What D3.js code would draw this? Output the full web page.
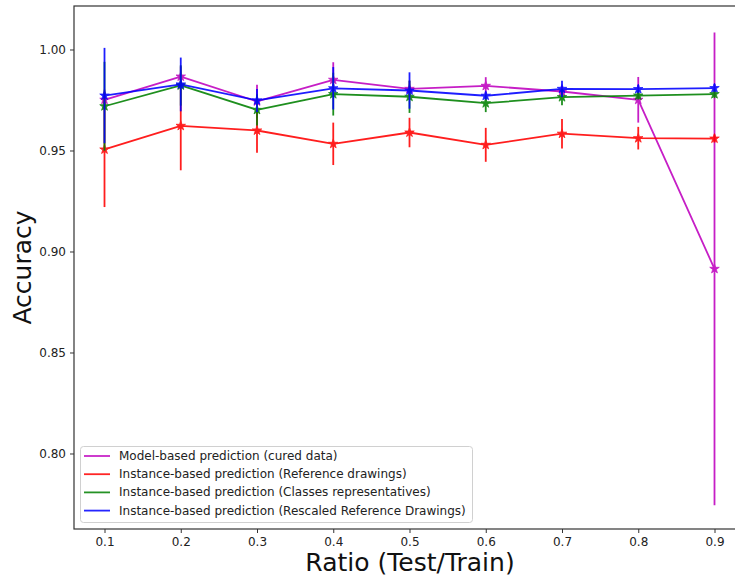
<!DOCTYPE html>
<html>
<head>
<meta charset="utf-8">
<script src="https://cdn.jsdelivr.net/npm/d3@7"></script>
<style>
  body { margin: 0; background: #fff; }
  svg { display: block; font-family: "DejaVu Sans", sans-serif; }
</style>
</head>
<body>
<svg id="chart" width="735" height="578"></svg>
<script>
// ---- data ----
const ratios = [0.1, 0.2, 0.3, 0.4, 0.5, 0.6, 0.7, 0.8, 0.9];
const xTicks = [0.1, 0.2, 0.3, 0.4, 0.5, 0.6, 0.7, 0.8, 0.9];
const yTicks = [0.80, 0.85, 0.90, 0.95, 1.00];

const modelMean  = [0.9751, 0.9866, 0.9743, 0.9850, 0.9805, 0.9820, 0.9792, 0.9751, 0.8914];
const modelErr   = [0.0050, 0.0050, 0.0082, 0.0087, 0.0040, 0.0043, 0.0030, 0.0113, 0.1170];
const refMean    = [0.9505, 0.9622, 0.9599, 0.9533, 0.9589, 0.9528, 0.9583, 0.9561, 0.9559];
const refErr     = [0.0285, 0.0220, 0.0110, 0.0105, 0.0073, 0.0084, 0.0073, 0.0056, 0.0020];
const classMean  = [0.9719, 0.9822, 0.9701, 0.9779, 0.9766, 0.9734, 0.9764, 0.9772, 0.9779];
const classErr   = [0.0220, 0.0100, 0.0077, 0.0106, 0.0080, 0.0044, 0.0040, 0.0020, 0.0020];
const rescMean   = [0.9772, 0.9827, 0.9748, 0.9808, 0.9797, 0.9771, 0.9805, 0.9804, 0.9809];
const rescErr    = [0.0236, 0.0133, 0.0057, 0.0105, 0.0090, 0.0020, 0.0040, 0.0020, 0.0020];

const seriesNames = [
  "Model-based prediction (cured data)",
  "Instance-based prediction (Reference drawings)",
  "Instance-based prediction (Classes representatives)",
  "Instance-based prediction (Rescaled Reference Drawings)"
];
const seriesColors = ["#bf00bf", "#ff0000", "#008000", "#0000ff"];

const series = [
  { name: seriesNames[0], color: seriesColors[0], mean: modelMean, err: modelErr },
  { name: seriesNames[1], color: seriesColors[1], mean: refMean,   err: refErr },
  { name: seriesNames[2], color: seriesColors[2], mean: classMean, err: classErr },
  { name: seriesNames[3], color: seriesColors[3], mean: rescMean,  err: rescErr }
];

// ---- layout ----
const plot = { left: 74, top: 6, right: 745, bottom: 529 };
const svg = d3.select("#chart");
svg.append("rect").attr("width", 735).attr("height", 578).attr("fill", "#fff");

const x = d3.scaleLinear().domain([0.06, 0.94]).range([plot.left, plot.right]);
const y = d3.scaleLinear().domain([0.76262, 1.02153]).range([plot.bottom, plot.top]);

// ---- series ----
const g = svg.append("g");
const line = d3.line().x(d => x(d[0])).y(d => y(d[1]));
const star = d3.symbol().type(d3.symbolStar).size(28);

series.forEach(s => {
  const pts = ratios.map((r, i) => [r, s.mean[i], s.err[i]]);
  const sg = g.append("g").attr("opacity", 0.88);
  sg.append("path")
    .datum(pts)
    .attr("d", line)
    .attr("fill", "none")
    .attr("stroke", s.color)
    .attr("stroke-width", 1.8)
    .attr("stroke-linejoin", "round");
  sg.selectAll("line.err")
    .data(pts)
    .join("line")
    .attr("class", "err")
    .attr("x1", d => x(d[0])).attr("x2", d => x(d[0]))
    .attr("y1", d => y(d[1] - d[2])).attr("y2", d => y(d[1] + d[2]))
    .attr("stroke", s.color)
    .attr("stroke-width", 1.8);
  sg.selectAll("path.mk")
    .data(pts)
    .join("path")
    .attr("class", "mk")
    .attr("d", star)
    .attr("transform", d => `translate(${x(d[0])},${y(d[1])})`)
    .attr("fill", s.color)
    .attr("stroke", s.color)
    .attr("stroke-width", 0.8);
});

// ---- axes ----
const xAxis = d3.axisBottom(x).tickValues(xTicks).tickSize(4).tickPadding(4)
  .tickFormat(d3.format(".1f"));
const yAxis = d3.axisLeft(y).tickValues(yTicks).tickSize(4).tickPadding(4)
  .tickFormat(d3.format(".2f"));

const gx = svg.append("g").attr("transform", `translate(0,${plot.bottom})`).call(xAxis);
const gy = svg.append("g").attr("transform", `translate(${plot.left},0)`).call(yAxis);
[gx, gy].forEach(a => {
  a.select(".domain").remove();
  a.selectAll(".tick line").attr("stroke", "#333").attr("stroke-width", 1);
  a.selectAll(".tick text").attr("fill", "#222").style("font-size", "12px")
    .style("font-family", "DejaVu Sans, sans-serif");
});

// frame
svg.append("rect")
  .attr("x", plot.left).attr("y", plot.top)
  .attr("width", plot.right - plot.left).attr("height", plot.bottom - plot.top)
  .attr("fill", "none").attr("stroke", "#333").attr("stroke-width", 1.2);

// axis labels
svg.append("text")
  .attr("x", 410).attr("y", 571)
  .attr("text-anchor", "middle")
  .style("font-size", "25px").attr("fill", "#111")
  .text("Ratio (Test/Train)");
svg.append("text")
  .attr("transform", `translate(31,${(plot.top + plot.bottom) / 2}) rotate(-90)`)
  .attr("text-anchor", "middle")
  .style("font-size", "25px").attr("fill", "#111")
  .text("Accuracy");

// ---- legend ----
const lg = svg.append("g");
lg.append("rect")
  .attr("x", 80.5).attr("y", 446.5).attr("width", 392).attr("height", 76)
  .attr("rx", 3).attr("ry", 3)
  .attr("fill", "#fff").attr("fill-opacity", 0.8)
  .attr("stroke", "#d0d0d0").attr("stroke-width", 1);
series.forEach((s, i) => {
  const cy = 456 + i * 18.2;
  lg.append("line")
    .attr("x1", 84).attr("x2", 110).attr("y1", cy).attr("y2", cy)
    .attr("stroke", s.color).attr("stroke-width", 1.8).attr("opacity", 0.85);
  lg.append("text")
    .attr("x", 119).attr("y", cy)
    .attr("dominant-baseline", "central")
    .style("font-size", "12px").attr("fill", "#222")
    .text(s.name);
});
</script>
</body>
</html>
